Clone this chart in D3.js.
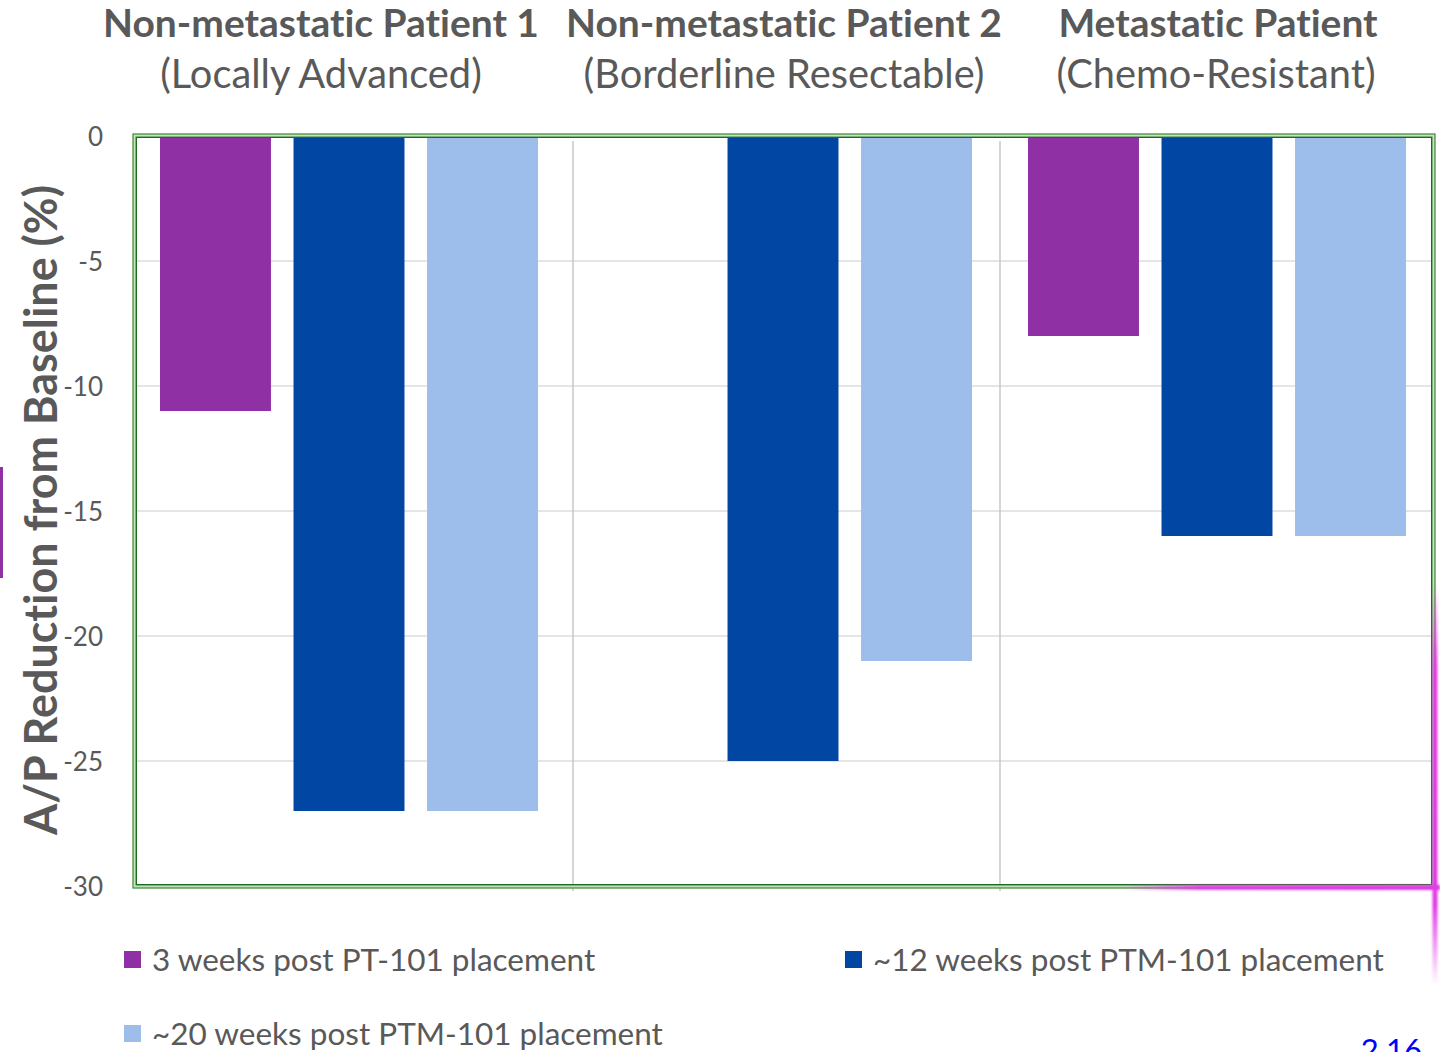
<!DOCTYPE html>
<html>
<head>
<meta charset="utf-8">
<script src="https://cdn.jsdelivr.net/npm/d3@7"></script>
<style>
  html, body { margin: 0; padding: 0; background: #fff; }
  svg { display: block; }
  text { font-family: Lato, "Open Sans", sans-serif; fill: #595959; font-variant-ligatures: none; font-feature-settings: "liga" 0, "clig" 0; }
</style>
</head>
<body>
<svg id="chart" width="1440" height="1052"></svg>
<script>
// Patients (categories) and their two-line headings
const patients = ["Non-metastatic Patient 1", "Non-metastatic Patient 2", "Metastatic Patient"];
const patientSubtitles = ["(Locally Advanced)", "(Borderline Resectable)", "(Chemo-Resistant)"];

// Time points (series)
const seriesNames = [
  "3 weeks post PT-101 placement",
  "~12 weeks post PTM-101 placement",
  "~20 weeks post PTM-101 placement"
];
const seriesColors = ["#8f31a4", "#0046a2", "#9dbeeb"];

// A/P reduction from baseline (%), one array per time point, in patient order
const week3Values  = [-11, null, -8];
const week12Values = [-27, -25, -16];
const week20Values = [-27, -21, -16];

const yTicks = [0, -5, -10, -15, -20, -25, -30];

const series = [week3Values, week12Values, week20Values];
const rows = [];
patients.forEach((p, i) => {
  series.forEach((vals, s) => {
    if (vals[i] !== null) rows.push({ patient: p, series: seriesNames[s], value: vals[i], color: seriesColors[s] });
  });
});

const svg = d3.select("#chart");

// Plot frame
const frame = { left: 133, right: 1435, top: 134, bottom: 888 };

const x0 = d3.scaleBand().domain(patients).range([132, 1434]);
const x1 = d3.scaleBand().domain(seriesNames).range([28, x0.bandwidth() - 28]).paddingInner(0.169);
const y = d3.scaleLinear().domain([-30, 0]).range([886, 136]);

// horizontal gridlines
svg.append("g")
  .selectAll("line")
  .data(yTicks.filter(t => t !== 0 && t !== -30))
  .join("line")
  .attr("x1", frame.left + 3).attr("x2", frame.right - 3)
  .attr("y1", d => y(d)).attr("y2", d => y(d))
  .attr("stroke", "#dcdcdc").attr("stroke-width", 1.6);

// vertical separators between patients
svg.append("g")
  .selectAll("line")
  .data(patients.slice(1))
  .join("line")
  .attr("x1", d => x0(d) + (patients.indexOf(d) === 1 ? 7 : 0))
  .attr("x2", d => x0(d) + (patients.indexOf(d) === 1 ? 7 : 0))
  .attr("y1", 141).attr("y2", 891)
  .attr("stroke", "#c4c4c4").attr("stroke-width", 1.4);

// bars (hang down from 0)
svg.append("g")
  .selectAll("rect")
  .data(rows)
  .join("rect")
  .attr("x", d => x0(d.patient) + x1(d.series))
  .attr("width", x1.bandwidth())
  .attr("y", y(0))
  .attr("height", d => y(d.value) - y(0))
  .attr("fill", d => d.color);

// double green frame
svg.append("rect")
  .attr("x", frame.left + 1.6).attr("y", frame.top + 1.6)
  .attr("width", frame.right - frame.left - 3.2).attr("height", frame.bottom - frame.top - 3.2)
  .attr("fill", "none").attr("stroke", "#c4e3bd").attr("stroke-width", 3.5);
svg.append("rect")
  .attr("x", frame.left).attr("y", frame.top)
  .attr("width", frame.right - frame.left).attr("height", frame.bottom - frame.top)
  .attr("fill", "none").attr("stroke", "#3f8a38").attr("stroke-width", 1.2);
svg.append("rect")
  .attr("x", frame.left + 3.3).attr("y", frame.top + 3.3)
  .attr("width", frame.right - frame.left - 6.6).attr("height", frame.bottom - frame.top - 6.6)
  .attr("fill", "none").attr("stroke", "#1d6b1d").attr("stroke-width", 1.4);

// pink highlight stroke over the lower-right corner of the frame
const defs = svg.append("defs");
defs.append("filter").attr("id", "glow").attr("x", "-50%").attr("y", "-50%").attr("width", "200%").attr("height", "200%")
  .append("feGaussianBlur").attr("stdDeviation", 1.3);
const hlH = defs.append("linearGradient").attr("id", "hlH").attr("x1", "0").attr("x2", "1").attr("y1", "0").attr("y2", "0");
hlH.append("stop").attr("offset", "0").attr("stop-color", "#e33ae8").attr("stop-opacity", 0);
hlH.append("stop").attr("offset", "0.25").attr("stop-color", "#e33ae8").attr("stop-opacity", 0.9);
hlH.append("stop").attr("offset", "1").attr("stop-color", "#e33ae8").attr("stop-opacity", 1);
const hlV = defs.append("linearGradient").attr("id", "hlV").attr("x1", "0").attr("x2", "0").attr("y1", "0").attr("y2", "1");
hlV.append("stop").attr("offset", "0").attr("stop-color", "#e33ae8").attr("stop-opacity", 0);
hlV.append("stop").attr("offset", "0.2").attr("stop-color", "#e33ae8").attr("stop-opacity", 0.95);
hlV.append("stop").attr("offset", "0.8").attr("stop-color", "#e33ae8").attr("stop-opacity", 1);
hlV.append("stop").attr("offset", "1").attr("stop-color", "#e33ae8").attr("stop-opacity", 0);
const hl = svg.append("g").attr("filter", "url(#glow)");
hl.append("rect").attr("x", 1120).attr("y", frame.bottom - 3).attr("width", 1440 - 1120).attr("height", 5).attr("fill", "url(#hlH)");
hl.append("rect").attr("x", frame.right - 2.5).attr("y", 585).attr("width", 5).attr("height", 400).attr("fill", "url(#hlV)");

// y axis tick labels (plain hyphen for the minus sign)
const yAxis = d3.axisLeft(y).tickValues(yTicks).tickSize(0).tickPadding(30).tickFormat(d => String(d));
const yg = svg.append("g").attr("transform", `translate(${frame.left},0)`).call(yAxis);
yg.select(".domain").remove();
yg.selectAll("text")
  .style("font-family", "Lato, sans-serif")
  .style("font-size", "26px")
  .attr("fill", "#595959")
  .attr("dy", "0.36em");

// fit a text element to a given width by scaling its font size; returns the size
function fitWidth(t, w) {
  const cur = parseFloat(t.style("font-size"));
  const len = t.node().getComputedTextLength();
  const size = cur * w / len;
  t.style("font-size", size.toFixed(2) + "px");
  return size;
}

// y axis title
const yTitle = svg.append("text")
  .attr("transform", "translate(57,510) rotate(-90)")
  .attr("text-anchor", "middle")
  .style("font-size", "40px").style("font-weight", "700")
  .text("A/P Reduction from Baseline (%)");
fitWidth(yTitle, 650);

// patient headings: one size for all headings, one for all subtitles
const titleX = [321, 784, 1218];
const headings = svg.append("g");
const titles = headings.selectAll("text.title")
  .data(patients).join("text").attr("class", "title")
  .attr("x", (d, i) => titleX[i]).attr("y", 37).attr("text-anchor", "middle")
  .style("font-size", "34px").style("font-weight", "700").text(d => d);
const titleSize = fitWidth(titles.filter((d, i) => i === 0), 436);
titles.style("font-size", titleSize.toFixed(2) + "px");

const subs = headings.selectAll("text.sub")
  .data(patientSubtitles).join("text").attr("class", "sub")
  .attr("x", (d, i) => titleX[i] - (i === 2 ? 2 : 0)).attr("y", 88).attr("text-anchor", "middle")
  .style("font-size", "34px").style("font-weight", "400").text(d => d);
const subSize = fitWidth(subs.filter((d, i) => i === 1), 401);
subs.style("font-size", subSize.toFixed(2) + "px");

// legend
const legendPos = [[124, 960], [845, 960], [124, 1034]];
const lg = svg.append("g");
const legendTexts = [];
seriesNames.forEach((name, i) => {
  const [lx, ly] = legendPos[i];
  lg.append("rect").attr("x", lx).attr("y", ly - 9).attr("width", 17).attr("height", 17).attr("fill", seriesColors[i]);
  legendTexts.push(lg.append("text").attr("x", lx + 28).attr("y", ly).attr("dy", "0.36em")
    .style("font-size", "29px").text(name));
});
const legendSize = fitWidth(legendTexts[1], 511);
legendTexts.forEach(t => t.style("font-size", legendSize.toFixed(2) + "px"));

// page number, running off the bottom of the page
svg.append("text").attr("x", 1422).attr("y", 1061).attr("text-anchor", "end")
  .style("font-size", "31px").style("fill", "#0000ff").text("2.16");

// stray accent mark on the left edge
svg.append("rect").attr("x", 0).attr("y", 467).attr("width", 3).attr("height", 111).attr("fill", "#8f31a4");
</script>
</body>
</html>
